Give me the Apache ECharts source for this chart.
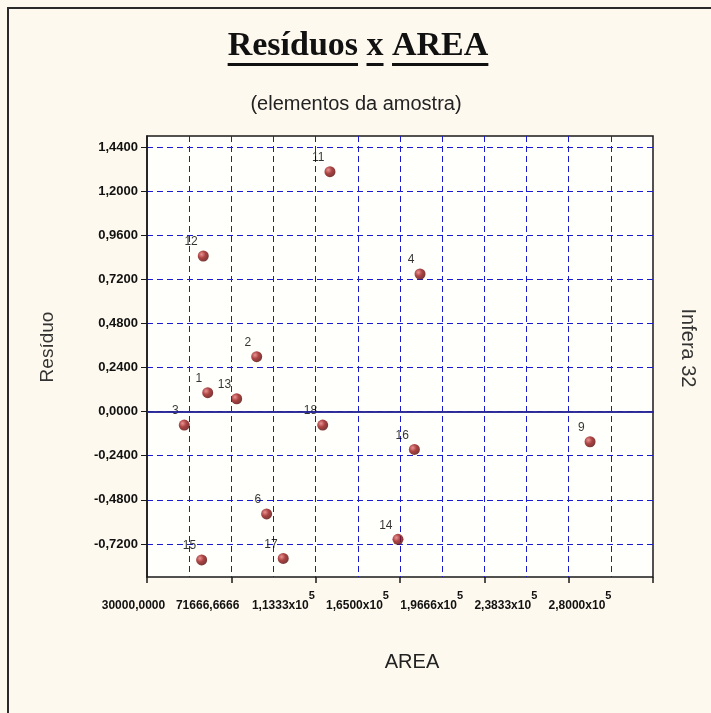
<!DOCTYPE html>
<html>
<head>
<meta charset="utf-8">
<script src="https://cdn.jsdelivr.net/npm/echarts@6/dist/echarts.min.js"></script>
<style>
html,body{margin:0;padding:0;background:#fdf9ee;}
#main{width:711px;height:713px;}
</style>
</head>
<body>
<div id="main"></div>
<script>
// ---- data ----
var pointIds   = ['1', '2', '3', '4', '6', '9', '11', '12', '13', '14', '15', '16', '17', '18'];
var areaValues = [60000, 84200, 48400, 164900, 89100, 248900, 120400, 57800, 74300, 154000, 57000, 162100, 97300, 116800];
var residuals  = [0.103, 0.299, -0.073, 0.749, -0.557, -0.164, 1.306, 0.847, 0.070, -0.695, -0.807, -0.206, -0.799, -0.073];

var yTickValues = [-0.72, -0.48, -0.24, 0, 0.24, 0.48, 0.72, 0.96, 1.2, 1.44];
var xTickLabels = ['30000,0000', '71666,6666', '1,1333', '1,6500', '1,9666', '2,3833', '2,8000'];
var xTickHasExp = [false, false, true, true, true, true, true];

var xMin = 30000, xMax = 280000;
var yMin = -0.9, yMax = 1.5;

var seriesData = pointIds.map(function (id, i) { return [areaValues[i], residuals[i], id]; });

var chart = echarts.init(document.getElementById('main'), null, {renderer: 'canvas'});

// underline positions for title words (layout only)
var titleFont = 'bold 34px "Liberation Serif"';
var cv = document.createElement('canvas').getContext('2d');
cv.font = titleFont;
var titleText = 'Resíduos x AREA';
var tW = cv.measureText(titleText).width;
var tCx = 358;
var tStart = tCx - tW / 2;
function mw(s) { return cv.measureText(s).width; }
var ul = [
  [tStart, mw('Resíduos')],
  [tStart + mw('Resíduos '), mw('x')],
  [tStart + mw('Resíduos x '), mw('AREA')]
];
var underlineGraphics = ul.map(function (u) {
  return {type: 'rect', shape: {x: u[0], y: 63, width: u[1], height: 3}, style: {fill: '#111'}, silent: true};
});

var axisTextColor = '#111';
var gridColor = '#1a1ad0';

var option = {
  backgroundColor: '#fdf9ee',
  animation: false,
  graphic: [
    {type: 'line', shape: {x1: 7, y1: 8, x2: 711, y2: 8}, style: {stroke: '#2a2a2a', lineWidth: 2}, silent: true},
    {type: 'line', shape: {x1: 8, y1: 7, x2: 8, y2: 713}, style: {stroke: '#2a2a2a', lineWidth: 2}, silent: true},
    {type: 'text', x: tCx, y: 46, style: {text: titleText, font: titleFont, fill: '#111', textAlign: 'center', textVerticalAlign: 'middle'}, silent: true},
    {type: 'text', x: 356, y: 104, style: {text: '(elementos da amostra)', font: '20px "Liberation Sans"', fill: '#222', textAlign: 'center', textVerticalAlign: 'middle'}, silent: true},
    {type: 'text', x: 412, y: 662, style: {text: 'AREA', font: '20px "Liberation Sans"', fill: '#222', textAlign: 'center', textVerticalAlign: 'middle'}, silent: true},
    {type: 'text', x: 48, y: 347, rotation: Math.PI / 2, style: {text: 'Resíduo', font: '19px "Liberation Sans"', fill: '#333', textAlign: 'center', textVerticalAlign: 'middle'}, silent: true},
    {type: 'text', x: 688, y: 348, rotation: -Math.PI / 2, style: {text: 'Infera 32', font: '20px "Liberation Sans"', fill: '#333', textAlign: 'center', textVerticalAlign: 'middle'}, silent: true}
  ].concat(underlineGraphics),
  grid: [
    {left: 147, right: 58, top: 136, bottom: 136, show: true, backgroundColor: '#fffffc', borderColor: '#1a1a1a', borderWidth: 1.5, containLabel: false, outerBoundsMode: 'none'},
    {left: 135, right: 131, top: 136, bottom: 136, show: false, containLabel: false, outerBoundsMode: 'none'}
  ],
  xAxis: [
    {
      gridIndex: 0, type: 'value', min: xMin, max: xMax, interval: (xMax - xMin) / 12,
      axisLine: {show: true, lineStyle: {color: '#1a1a1a', width: 1.5}},
      axisTick: {show: false},
      axisLabel: {show: false},
      splitLine: {show: true, showMinLine: false, showMaxLine: false, lineStyle: {color: gridColor, type: [6, 4], width: 1, opacity: 1}}
    },
    {
      gridIndex: 0, type: 'value', position: 'bottom', min: xMin, max: xMax, interval: (xMax - xMin) / 6,
      axisLine: {show: false},
      axisTick: {show: true, length: 6, lineStyle: {color: '#1a1a1a', width: 1.5}},
      axisLabel: {show: false},
      splitLine: {show: false}
    },
    {
      gridIndex: 1, type: 'value', position: 'bottom', min: xMin, max: xMax, interval: (xMax - xMin) / 6,
      axisLine: {show: false},
      axisTick: {show: false},
      splitLine: {show: false},
      axisLabel: {
        show: true, margin: 17, color: axisTextColor, fontFamily: 'Liberation Sans', fontSize: 12,
        formatter: function (v, idx) {
          var i = Math.round((v - xMin) / ((xMax - xMin) / 6));
          if (i < 0 || i >= xTickLabels.length) return '';
          return xTickHasExp[i] ? '{m|' + xTickLabels[i] + 'x10}{s|5}' : '{m|' + xTickLabels[i] + '}{s| }';
        },
        rich: {
          m: {fontFamily: 'Liberation Sans', fontSize: 12, color: axisTextColor, fontWeight: 'bold', lineHeight: 14, padding: [10, 0, 0, 0]},
          s: {fontFamily: 'Liberation Sans', fontSize: 11, color: axisTextColor, fontWeight: 'bold', lineHeight: 12, padding: [0, 0, 10, 0]}
        }
      }
    }
  ],
  yAxis: [
    {
      gridIndex: 0, type: 'value', min: yMin, max: yMax,
      axisLine: {show: true, lineStyle: {color: '#1a1a1a', width: 1.5}},
      axisTick: {show: true, length: 6, customValues: yTickValues, lineStyle: {color: '#1a1a1a', width: 1}},
      axisLabel: {
        show: true, margin: 9, color: axisTextColor, fontFamily: 'Liberation Sans', fontSize: 13, fontWeight: 'bold',
        customValues: yTickValues,
        formatter: function (v) { return v.toFixed(4).replace('.', ','); }
      },
      splitLine: {show: true, lineStyle: {color: gridColor, type: [6, 4], width: 1, opacity: 1}}
    },
    {gridIndex: 1, type: 'value', min: yMin, max: yMax, show: false}
  ],
  series: [{
    type: 'scatter',
    xAxisIndex: 0, yAxisIndex: 0,
    data: seriesData,
    symbol: 'circle',
    symbolSize: 11,
    itemStyle: {
      color: {type: 'radial', x: 0.35, y: 0.35, r: 0.75, colorStops: [
        {offset: 0, color: '#e47878'}, {offset: 0.45, color: '#961414'}, {offset: 1, color: '#4c0404'}
      ]}
    },
    label: {
      show: true, position: 'left', distance: 0, offset: [0, -14],
      formatter: function (p) { return p.data[2]; },
      fontFamily: 'Liberation Sans', fontSize: 12, color: '#000'
    },
    markLine: {
      silent: true, symbol: 'none', animation: false,
      label: {show: false},
      lineStyle: {color: '#2a2ab4', type: 'solid', width: 1.5},
      data: [{yAxis: 0}]
    }
  }]
};
chart.setOption(option);
</script>
</body>
</html>
